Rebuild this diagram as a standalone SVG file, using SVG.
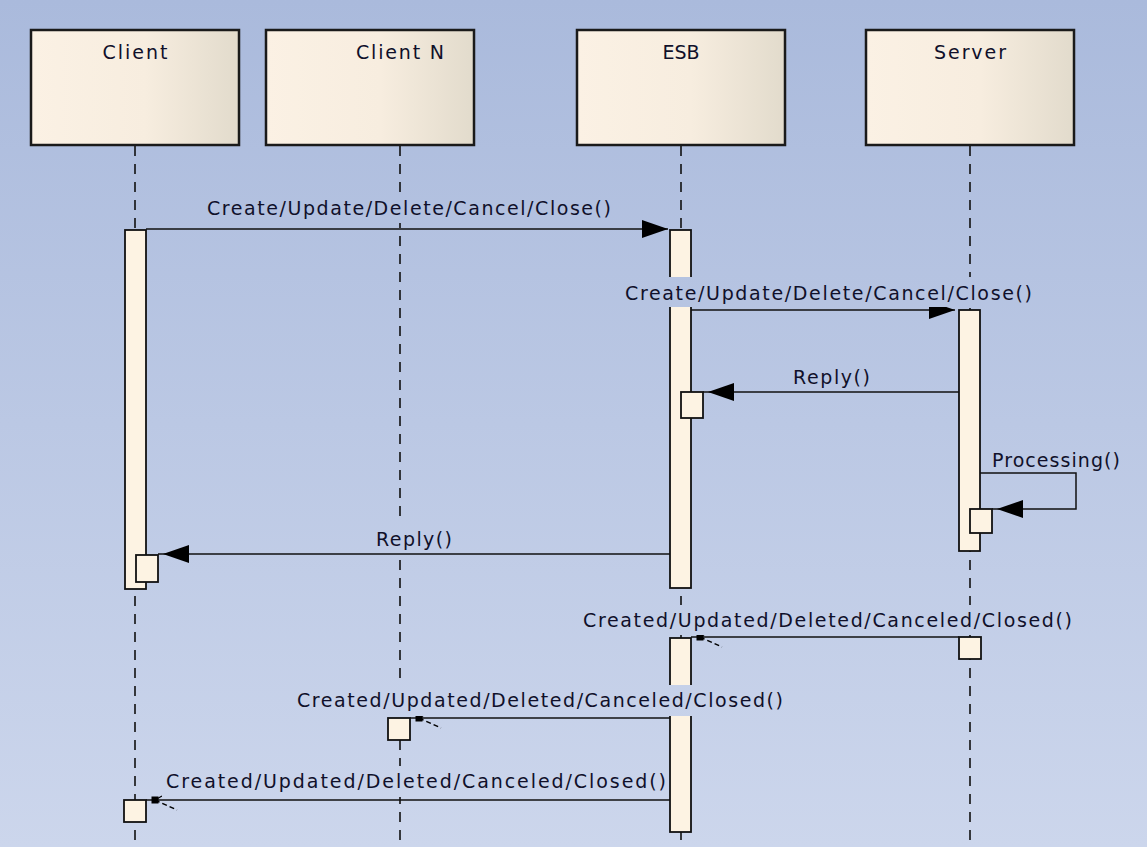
<svg xmlns="http://www.w3.org/2000/svg" width="1147" height="847" viewBox="0 0 1147 847">
<defs>
<linearGradient id="bg" gradientUnits="userSpaceOnUse" x1="0" y1="0" x2="0" y2="847">
<stop offset="0" stop-color="#aabadc"/>
<stop offset="1" stop-color="#ccd6ec"/>
</linearGradient>
<linearGradient id="hdr" x1="0" y1="0" x2="1" y2="0">
<stop offset="0" stop-color="#fbf1e4"/>
<stop offset="0.55" stop-color="#f7eddf"/>
<stop offset="1" stop-color="#e2dbcc"/>
</linearGradient>
<marker id="sync" markerUnits="userSpaceOnUse" markerWidth="40" markerHeight="30" refX="26" refY="10" orient="auto" overflow="visible">
<path d="M0,1 L26,10 L0,19 Z" fill="#000"/>
</marker>
<marker id="sync5" markerUnits="userSpaceOnUse" markerWidth="40" markerHeight="30" refX="31" refY="10" orient="auto" overflow="visible">
<path d="M0,1 L26,10 L0,19 Z" fill="#000"/>
</marker>
<marker id="async" markerUnits="userSpaceOnUse" markerWidth="30" markerHeight="30" refX="10" refY="10" orient="auto" overflow="visible">
<rect x="-2.5" y="6.5" width="7" height="7" fill="#000"/>
<line x1="1" y1="10" x2="-21" y2="0" stroke="#000" stroke-width="1.5" stroke-dasharray="5,3"/>
<line x1="1" y1="10" x2="-6" y2="14" stroke="#000" stroke-width="1.3"/>
</marker>
</defs>
<style>
.hbox{fill:url(#hdr);stroke:#1a1a1a;stroke-width:2.5}
.life{stroke:#111;stroke-width:1.6;stroke-dasharray:10,8;fill:none}
.act{fill:#fdf3e3;stroke:#111;stroke-width:1.8}
.msg{stroke:#111;stroke-width:1.5;fill:none}
.t{font-family:"DejaVu Sans",Verdana,sans-serif;font-size:19px;fill:#10102a}
.h{font-family:"DejaVu Sans",Verdana,sans-serif;font-size:19px;fill:#10102a;text-anchor:middle}
.lbg{fill:url(#bg)}
</style>
<rect x="0" y="0" width="1147" height="847" fill="url(#bg)"/>

<g id="lifelines">
<line class="life" x1="135" y1="146" x2="135" y2="847"/>
<line class="life" x1="400" y1="146" x2="400" y2="847"/>
<line class="life" x1="681" y1="146" x2="681" y2="847"/>
<line class="life" x1="970" y1="146" x2="970" y2="847"/>
</g>

<g id="node-client">
<rect class="hbox" x="31" y="30" width="208" height="115"/>
<text class="h" x="135" y="59" textLength="65">Client</text>
<rect class="act" x="125" y="230" width="21" height="359"/>
<rect class="act" x="136" y="555" width="22" height="27"/>
<rect class="act" x="124" y="800" width="22" height="22"/>
</g>

<g id="node-clientn">
<rect class="hbox" x="266" y="30" width="208" height="115"/>
<text class="h" x="400" y="59" textLength="88">Client N</text>
<rect class="act" x="388" y="718" width="22" height="22"/>
</g>

<g id="node-esb">
<rect class="hbox" x="577" y="30" width="208" height="115"/>
<text class="h" x="681" y="59">ESB</text>
<rect class="act" x="670" y="230" width="21" height="358"/>
<rect class="act" x="681" y="392" width="22" height="26"/>
<rect class="act" x="670" y="638" width="21" height="194"/>
</g>

<g id="node-server">
<rect class="hbox" x="866" y="30" width="208" height="115"/>
<text class="h" x="970" y="59" textLength="72">Server</text>
<rect class="act" x="959" y="310" width="21" height="241"/>
<rect class="act" x="970" y="509" width="22" height="24"/>
<rect class="act" x="959" y="637" width="22" height="22"/>
</g>

<g id="connectors">
<line class="msg" x1="146" y1="229" x2="668" y2="229" marker-end="url(#sync)"/>
<line class="msg" x1="691" y1="310" x2="955" y2="310" marker-end="url(#sync)"/>
<line class="msg" x1="959" y1="392" x2="703" y2="392" marker-end="url(#sync5)"/>
<polyline class="msg" points="980,473 1076,473 1076,509 992,509" marker-end="url(#sync5)"/>
<line class="msg" x1="670" y1="554" x2="158" y2="554" marker-end="url(#sync5)"/>
<line class="msg" x1="959" y1="637" x2="691" y2="637" marker-end="url(#async)"/>
<line class="msg" x1="670" y1="718" x2="410" y2="718" marker-end="url(#async)"/>
<line class="msg" x1="670" y1="800" x2="146" y2="800" marker-end="url(#async)"/>
</g>

<g id="labels">
<rect class="lbg" x="202" y="193" width="414" height="30"/>
<text class="t" x="207" y="215" textLength="404">Create/Update/Delete/Cancel/Close()</text>
<rect class="lbg" x="620" y="277" width="417" height="30"/>
<text class="t" x="625" y="300" textLength="407">Create/Update/Delete/Cancel/Close()</text>
<rect class="lbg" x="788" y="362" width="87" height="28"/>
<text class="t" x="793" y="384" textLength="77">Reply()</text>
<text class="t" x="992" y="467" textLength="128">Processing()</text>
<rect class="lbg" x="371" y="523" width="86" height="30"/>
<text class="t" x="376" y="546" textLength="76">Reply()</text>
<rect class="lbg" x="578" y="605" width="499" height="30"/>
<text class="t" x="583" y="627" textLength="489">Created/Updated/Deleted/Canceled/Closed()</text>
<rect class="lbg" x="292" y="685" width="495" height="31"/>
<text class="t" x="297" y="707" textLength="486">Created/Updated/Deleted/Canceled/Closed()</text>
<rect class="lbg" x="162" y="766" width="506" height="31"/>
<text class="t" x="166" y="788" textLength="500">Created/Updated/Deleted/Canceled/Closed()</text>
</g>
</svg>
